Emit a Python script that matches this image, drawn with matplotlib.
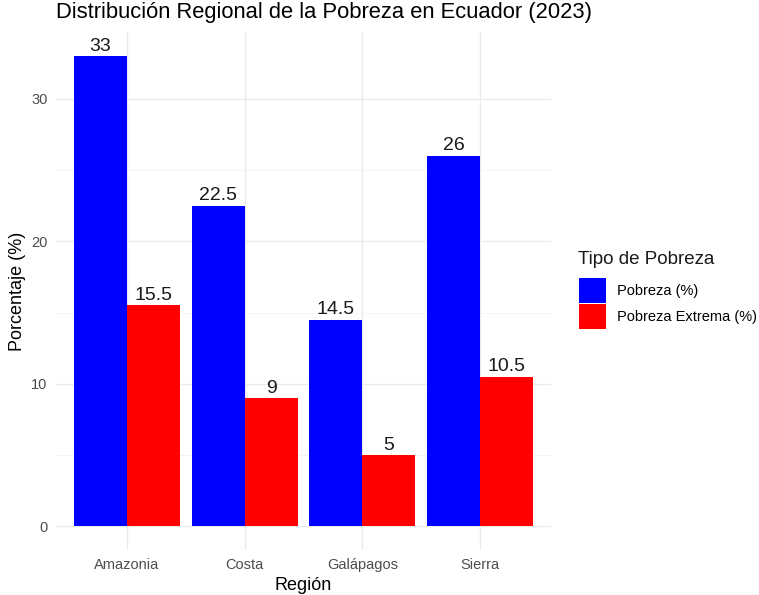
import numpy as np
import matplotlib.pyplot as plt
from matplotlib.patches import Patch

plt.rcParams["font.family"] = ["Liberation Sans", "DejaVu Sans"]

regions = ["Amazonia", "Costa", "Galápagos", "Sierra"]
pobreza = [33, 22.5, 14.5, 26]
pobreza_extrema = [15.5, 9, 5, 10.5]
series_names = ["Pobreza (%)", "Pobreza Extrema (%)"]
series_colors = ["#0000FF", "#FF0000"]


def fmt(v):
    return f"{v:g}"


fig = plt.figure(figsize=(7.59, 5.95), dpi=100)
ax = fig.add_axes([0.0738, 0.0756, 0.652, 0.870])

x = np.arange(1, len(regions) + 1)
width = 0.45

for offset, values, color in [(-width / 2, pobreza, series_colors[0]),
                              (width / 2, pobreza_extrema, series_colors[1])]:
    ax.bar(x + offset, values, width=width, color=color, zorder=2)
    for xi, v in zip(x + offset, values):
        ax.annotate(fmt(v), (xi, v), xytext=(0, 1.0), textcoords="offset points",
                    ha="center", va="bottom", fontsize=14, color="#1a1a1a")

ymax = max(pobreza)
ax.set_xlim(0.4, 4.6)
ax.set_ylim(-0.05 * ymax, ymax * 1.05)

ax.set_yticks([0, 10, 20, 30])
ax.set_yticks([5, 15, 25], minor=True)
ax.set_xticks(x)
ax.set_xticklabels(regions)

ax.grid(True, which="major", color="#EBEBEB", linewidth=1.0, zorder=0)
ax.grid(True, which="minor", axis="y", color="#F3F3F3", linewidth=0.6, zorder=0)
ax.set_axisbelow(True)

for s in ax.spines.values():
    s.set_visible(False)
ax.tick_params(which="both", length=0, labelsize=10.5, labelcolor="#4D4D4D", pad=6)

ax.set_xlabel("Región", fontsize=13, labelpad=3)
ax.set_ylabel("Porcentaje (%)", fontsize=13, labelpad=4)
ax.set_title("Distribución Regional de la Pobreza en Ecuador (2023)",
             fontsize=15.8, loc="left", x=0.0, pad=10)

# legend title placed by hand so the gap to the keys matches ggplot
fig.text(578 / 759, 1 - 260 / 595, "Tipo de Pobreza", fontsize=13.5,
         ha="left", va="center", color="#1a1a1a")
handles = [Patch(facecolor=c, edgecolor="none", label=n)
           for c, n in zip(series_colors, series_names)]
fig.legend(handles=handles, loc="center left",
           bbox_to_anchor=(579 / 759, 1 - 303.5 / 595),
           frameon=False, fontsize=10.5,
           handlelength=1.85, handleheight=2.26, handletextpad=0.75,
           labelspacing=0.05, borderaxespad=0, borderpad=0)

fig.savefig("out.png", dpi=100)
